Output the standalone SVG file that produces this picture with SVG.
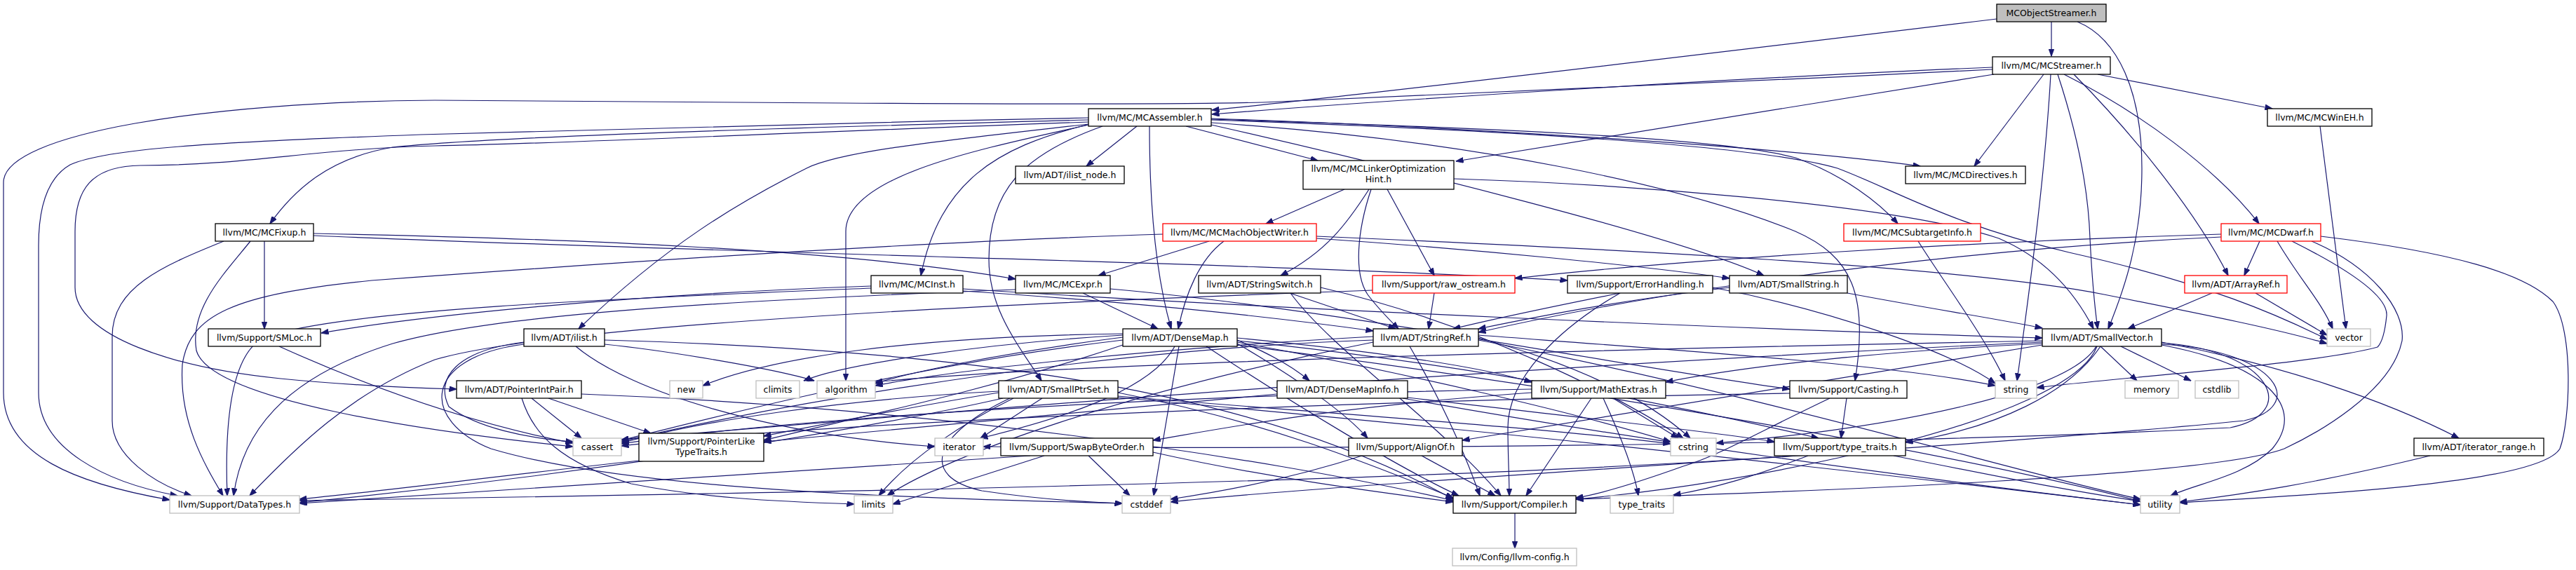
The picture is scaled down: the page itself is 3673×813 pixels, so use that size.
<svg xmlns="http://www.w3.org/2000/svg" width="3673" height="813" viewBox="0 0 3673 813">
<style>
text{font-family:"DejaVu Sans","Liberation Sans",sans-serif;font-size:12.5px;fill:#000;text-anchor:middle}
.n rect{fill:#fff;stroke:#000;stroke-width:1.3}
.r rect{fill:#fff;stroke:#ff0000;stroke-width:1.3}
.g rect{fill:#fff;stroke:#bfbfbf;stroke-width:1.3}
.s rect{fill:#bfbfbf;stroke:#000;stroke-width:1.3}
#edges path{fill:none;stroke:#191970;stroke-width:1.2;marker-end:url(#a)}
</style>
<defs>
<marker id="a" markerWidth="11" markerHeight="8" refX="10.5" refY="4" orient="auto" markerUnits="userSpaceOnUse"><path d="M0,0 L11,4 L0,8 z" fill="#191970" stroke="#191970" stroke-width="0.8"/></marker>
</defs>
<rect width="3673" height="813" fill="#fff"/>
<g id="edges">
<path d="M2925,31 L2925,80"/>
<path d="M2847,27 C2450,75 1950,135 1728,157"/>
<path d="M2962,31 C3020,55 3054,130 3054,240 C3054,340 3030,410 3006,469"/>
<path d="M2841,96 C2450,112 1950,145 1728,163"/>
<path d="M2841,99 C2450,118 2000,140 1800,146 C1650,150 1400,148 1200,147 L620,143 C300,145 5,190 5,260 L5,560 C5,650 110,690 242,713"/>
<path d="M2843,106 L2076,230"/>
<path d="M2914,106 L2815,237"/>
<path d="M2924,106 C2916,250 2893,420 2876,543"/>
<path d="M2934,106 C2965,200 2978,280 2980,340 C2983,400 2987,440 2991,469"/>
<path d="M2943,106 C3050,160 3160,240 3221,319"/>
<path d="M2957,106 C3040,190 3130,300 3177,393"/>
<path d="M2991,106 L3240,155"/>
<path d="M1552,168 C1200,175 800,186 600,192 C300,203 150,212 100,235 C65,255 55,300 55,350 L55,560 C55,640 150,688 253,707"/>
<path d="M1552,171 C1100,183 700,195 560,210 C470,225 420,270 385,319"/>
<path d="M1552,174 C1100,190 800,205 620,208 C450,212 350,236 200,236 C130,237 107,270 107,330 L107,410 C107,480 250,525 400,540 C500,550 580,553 651,555"/>
<path d="M1621,180 L1549,237"/>
<path d="M1550,178 C1420,210 1340,260 1313,393"/>
<path d="M1552,177 C1350,200 1200,215 1150,240 C1050,290 950,350 825,469"/>
<path d="M1552,178 C1400,212 1206,250 1206,330 L1206,543"/>
<path d="M1572,180 C1460,220 1410,270 1410,370 C1410,440 1450,490 1485,543"/>
<path d="M1639,180 C1639,300 1650,400 1670,469"/>
<path d="M1691,180 L1879,229"/>
<path d="M1727,169 C2000,178 2500,205 2738,237"/>
<path d="M1727,170 C2100,182 2450,195 2560,225 C2630,250 2680,290 2706,319"/>
<path d="M1727,171 C2100,184 2500,205 2620,240 C2700,270 2780,320 2950,360 C3150,405 3250,450 3318,484"/>
<path d="M1727,175 C2100,200 2400,265 2560,330 C2640,365 2665,420 2645,543"/>
<path d="M1727,178 C2000,240 2400,340 2515,393"/>
<path d="M3308,180 L3345,469"/>
<path d="M1917,270 L1805,319"/>
<path d="M1952,270 C1920,320 1890,360 1826,393"/>
<path d="M1955,270 C1935,330 1930,390 1950,420 C1965,440 1980,455 1994,469"/>
<path d="M1978,270 L2045,393"/>
<path d="M2073,255 C2300,262 2700,290 2850,340 C2920,370 2960,420 2985,469"/>
<path d="M377,344 L377,469"/>
<path d="M357,344 C320,390 270,440 280,500 C300,570 600,615 817,637"/>
<path d="M319,344 C230,380 160,410 160,480 L160,600 C160,650 220,690 273,707"/>
<path d="M447,333 C800,340 1200,355 1448,398"/>
<path d="M447,336 C1000,360 1800,375 2235,400"/>
<path d="M1724,344 L1566,393"/>
<path d="M1745,344 C1710,370 1690,420 1680,469"/>
<path d="M1658,334 C1300,345 800,380 530,400 C330,420 270,450 260,520 C255,600 290,660 318,707"/>
<path d="M1877,340 C2100,355 2350,380 2466,397"/>
<path d="M1877,337 C2300,355 2800,380 3000,420 C3150,450 3250,470 3318,490"/>
<path d="M2735,344 C2770,400 2830,480 2859,543"/>
<path d="M3222,344 L3200,393"/>
<path d="M3247,344 C3280,400 3310,430 3326,469"/>
<path d="M3167,334 C2800,345 2400,370 2160,397"/>
<path d="M3268,344 C3340,380 3405,420 3403,450 C3400,480 3395,490 3390,495 C3300,520 3000,540 2904,553"/>
<path d="M3309,337 C3500,360 3600,390 3640,430 C3670,470 3665,600 3650,640 C3620,690 3300,705 3108,717"/>
<path d="M3167,338 C2700,360 2300,430 2108,474"/>
<path d="M3296,344 C3380,380 3430,440 3425,486 C3410,560 3300,620 3257,640 C3150,680 2600,700 2247,712"/>
<path d="M1373,412 C1800,440 2500,470 2912,482"/>
<path d="M1373,415 C1600,430 1800,450 1958,472"/>
<path d="M1242,408 C900,420 600,450 458,475"/>
<path d="M1242,411 C900,425 500,440 380,480 C330,500 320,600 324,707"/>
<path d="M1544,418 L1651,469"/>
<path d="M1583,412 C1900,440 2300,520 2552,555"/>
<path d="M1448,413 C1000,430 700,450 560,490 C400,540 345,620 333,707"/>
<path d="M1839,418 L1990,469"/>
<path d="M1840,418 C1900,500 2050,600 2140,707"/>
<path d="M1883,410 C2100,460 2300,560 2400,625"/>
<path d="M2045,418 L2037,469"/>
<path d="M1957,414 C1500,430 800,460 620,513 C500,560 420,640 356,707"/>
<path d="M2310,418 C2250,430 2150,450 2072,469"/>
<path d="M2310,418 C2220,470 2150,540 2150,610 C2150,650 2152,680 2152,707"/>
<path d="M2442,410 C2600,440 2780,500 2845,547"/>
<path d="M2634,418 C2750,440 2850,455 2912,468"/>
<path d="M2466,410 C2300,430 2200,450 2108,469"/>
<path d="M3154,418 L3034,469"/>
<path d="M3216,418 L3318,478"/>
<path d="M398,494 C500,540 650,600 817,632"/>
<path d="M862,491 C950,500 1100,525 1161,543"/>
<path d="M747,488 C650,500 620,540 640,580 C680,610 750,625 817,630"/>
<path d="M747,491 C600,510 600,600 700,640 C900,700 1300,710 1600,718"/>
<path d="M821,494 C900,560 1100,620 1333,637"/>
<path d="M862,485 C1400,500 1800,560 2072,712"/>
<path d="M758,568 L829,625"/>
<path d="M782,568 L928,618"/>
<path d="M744,568 C760,620 800,660 900,690 C1000,710 1100,715 1218,719"/>
<path d="M829,562 C1300,580 1800,650 2072,714"/>
<path d="M911,657 C700,680 550,700 427,712"/>
<path d="M1764,485 C1800,500 1840,520 1867,543"/>
<path d="M1764,490 C1850,540 1920,590 1950,625"/>
<path d="M1720,494 C1850,580 2000,670 2080,707"/>
<path d="M1764,482 C1950,500 2100,520 2184,545"/>
<path d="M1601,492 C1400,560 1200,600 1089,628"/>
<path d="M1764,486 C2100,520 2400,580 2593,625"/>
<path d="M1601,481 C1450,500 1300,530 1248,547"/>
<path d="M1601,485 C1300,520 1000,600 886,628"/>
<path d="M1601,478 C1400,490 1200,520 1146,543"/>
<path d="M1681,494 L1645,707"/>
<path d="M1764,488 C2000,530 2250,590 2382,630"/>
<path d="M1675,494 C1640,560 1500,600 1398,625"/>
<path d="M1601,476 C1300,480 1100,510 1002,550"/>
<path d="M1764,492 C2300,560 2800,650 3052,715"/>
<path d="M1424,560 C1300,580 1150,610 1089,622"/>
<path d="M1424,558 C1200,570 1000,600 886,632"/>
<path d="M1486,568 L1398,625"/>
<path d="M1594,560 C1800,600 1950,660 2072,710"/>
<path d="M1430,568 C1200,620 800,680 427,717"/>
<path d="M1440,568 C1330,620 1310,680 1400,700 C1480,712 1540,716 1600,718"/>
<path d="M1594,565 C1900,590 2200,610 2382,633"/>
<path d="M1594,567 C2200,620 2800,690 3052,720"/>
<path d="M1445,568 C1380,600 1300,650 1253,707"/>
<path d="M1644,645 C1800,680 1950,700 2072,716"/>
<path d="M1469,650 C1000,680 700,700 427,718"/>
<path d="M1552,650 L1611,707"/>
<path d="M1489,650 L1273,719"/>
<path d="M1821,562 C1500,590 1200,620 1089,630"/>
<path d="M2007,567 C2200,590 2400,610 2530,630"/>
<path d="M2000,568 C2400,640 2800,690 3052,720"/>
<path d="M2269,568 L2176,707"/>
<path d="M2184,560 C1900,580 1750,610 1644,628"/>
<path d="M2300,568 L2393,625"/>
<path d="M2286,568 C2310,620 2330,670 2336,707"/>
<path d="M2184,555 C1600,565 1100,600 886,633"/>
<path d="M2027,650 L2132,707"/>
<path d="M1942,650 C1850,680 1750,700 1669,712"/>
<path d="M2609,568 C2500,620 2450,650 2400,665 C2330,690 2280,705 2247,710"/>
<path d="M2633,568 L2625,625"/>
<path d="M2552,561 C2000,570 1200,600 886,636"/>
<path d="M2578,650 C2500,680 2450,695 2386,706"/>
<path d="M2700,650 C2850,680 2950,700 3052,715"/>
<path d="M2560,650 C2000,690 1000,705 427,714"/>
<path d="M2160,732 L2160,782"/>
<path d="M3465,650 C3300,690 3200,705 3108,716"/>
<path d="M2010,494 C2060,580 2090,650 2110,707"/>
<path d="M1958,480 C1600,500 1350,530 1248,550"/>
<path d="M1958,485 C1500,500 1000,600 886,630"/>
<path d="M2108,482 C2250,520 2350,570 2410,625"/>
<path d="M1958,488 C1600,560 1350,650 1265,707"/>
<path d="M2108,478 C2400,500 2700,520 2845,550"/>
<path d="M2108,485 C2500,560 2900,680 3052,712"/>
<path d="M3082,488 C3250,520 3400,570 3506,625"/>
<path d="M2912,492 C2500,560 2200,610 2085,628"/>
<path d="M2990,494 C2950,600 2500,690 2247,712"/>
<path d="M2912,490 C2700,500 2500,520 2375,545"/>
<path d="M2995,494 C2950,560 2850,610 2717,631"/>
<path d="M2912,486 C2200,500 1500,520 1248,545"/>
<path d="M2912,488 C2000,530 1200,600 886,627"/>
<path d="M3082,491 C3250,500 3290,580 3200,600 C2800,640 1900,690 1669,716"/>
<path d="M3024,494 L3124,543"/>
<path d="M2989,494 C2950,560 2700,610 2447,632"/>
<path d="M3082,489 C3240,500 3280,590 3180,610 C2600,640 1700,640 1402,637"/>
<path d="M2995,494 L3047,543"/>
<path d="M3082,492 C3230,520 3290,580 3240,640 C3200,680 3130,690 3095,707"/>
</g>
<g id="n1" class="s"><rect x="2847" y="6" width="156" height="25"/><text x="2925" y="23">MCObjectStreamer.h</text></g>
<g id="n2" class="n"><rect x="2841" y="81" width="168" height="25"/><text x="2925" y="98">llvm/MC/MCStreamer.h</text></g>
<g id="n3" class="n"><rect x="1552" y="155" width="175" height="25"/><text x="1639.5" y="172">llvm/MC/MCAssembler.h</text></g>
<g id="n4" class="n"><rect x="3233" y="155" width="149" height="25"/><text x="3307.5" y="172">llvm/MC/MCWinEH.h</text></g>
<g id="n5" class="n"><rect x="1858" y="229" width="215" height="41"/><text x="1965.5" y="245">llvm/MC/MCLinkerOptimization</text><text x="1965.5" y="260">Hint.h</text></g>
<g id="n6" class="n"><rect x="1448" y="237" width="155" height="25"/><text x="1525.5" y="254">llvm/ADT/ilist_node.h</text></g>
<g id="n7" class="n"><rect x="2717" y="237" width="171" height="25"/><text x="2802.5" y="254">llvm/MC/MCDirectives.h</text></g>
<g id="n8" class="n"><rect x="307" y="319" width="140" height="25"/><text x="377" y="336">llvm/MC/MCFixup.h</text></g>
<g id="n9" class="r"><rect x="1658" y="319" width="219" height="25"/><text x="1767.5" y="336">llvm/MC/MCMachObjectWriter.h</text></g>
<g id="n10" class="r"><rect x="2629" y="319" width="195" height="25"/><text x="2726.5" y="336">llvm/MC/MCSubtargetInfo.h</text></g>
<g id="n11" class="r"><rect x="3167" y="319" width="142" height="25"/><text x="3238" y="336">llvm/MC/MCDwarf.h</text></g>
<g id="n12" class="n"><rect x="1242" y="393" width="131" height="25"/><text x="1307.5" y="410">llvm/MC/MCInst.h</text></g>
<g id="n13" class="n"><rect x="1448" y="393" width="135" height="25"/><text x="1515.5" y="410">llvm/MC/MCExpr.h</text></g>
<g id="n14" class="n"><rect x="1709" y="393" width="174" height="25"/><text x="1796" y="410">llvm/ADT/StringSwitch.h</text></g>
<g id="n15" class="r"><rect x="1957" y="393" width="203" height="25"/><text x="2058.5" y="410">llvm/Support/raw_ostream.h</text></g>
<g id="n16" class="n"><rect x="2235" y="393" width="207" height="25"/><text x="2338.5" y="410">llvm/Support/ErrorHandling.h</text></g>
<g id="n17" class="n"><rect x="2466" y="393" width="168" height="25"/><text x="2550" y="410">llvm/ADT/SmallString.h</text></g>
<g id="n18" class="r"><rect x="3115" y="393" width="146" height="25"/><text x="3188" y="410">llvm/ADT/ArrayRef.h</text></g>
<g id="n19" class="n"><rect x="297" y="469" width="160" height="25"/><text x="377" y="486">llvm/Support/SMLoc.h</text></g>
<g id="n20" class="n"><rect x="747" y="469" width="115" height="25"/><text x="804.5" y="486">llvm/ADT/ilist.h</text></g>
<g id="n21" class="n"><rect x="1601" y="469" width="163" height="25"/><text x="1682.5" y="486">llvm/ADT/DenseMap.h</text></g>
<g id="n22" class="n"><rect x="1958" y="469" width="150" height="25"/><text x="2033" y="486">llvm/ADT/StringRef.h</text></g>
<g id="n23" class="n"><rect x="2912" y="469" width="170" height="25"/><text x="2997" y="486">llvm/ADT/SmallVector.h</text></g>
<g id="n24" class="g"><rect x="3318" y="469" width="62" height="25"/><text x="3349" y="486">vector</text></g>
<g id="n25" class="n"><rect x="651" y="543" width="178" height="25"/><text x="740" y="560">llvm/ADT/PointerIntPair.h</text></g>
<g id="n26" class="g"><rect x="955" y="543" width="47" height="25"/><text x="978.5" y="560">new</text></g>
<g id="n27" class="g"><rect x="1078" y="543" width="62" height="25"/><text x="1109" y="560">climits</text></g>
<g id="n28" class="g"><rect x="1165" y="543" width="83" height="25"/><text x="1206.5" y="560">algorithm</text></g>
<g id="n29" class="n"><rect x="1424" y="543" width="170" height="25"/><text x="1509" y="560">llvm/ADT/SmallPtrSet.h</text></g>
<g id="n30" class="n"><rect x="1821" y="543" width="186" height="25"/><text x="1914" y="560">llvm/ADT/DenseMapInfo.h</text></g>
<g id="n31" class="n"><rect x="2184" y="543" width="191" height="25"/><text x="2279.5" y="560">llvm/Support/MathExtras.h</text></g>
<g id="n32" class="n"><rect x="2552" y="543" width="167" height="25"/><text x="2635.5" y="560">llvm/Support/Casting.h</text></g>
<g id="n33" class="g"><rect x="2845" y="543" width="59" height="25"/><text x="2874.5" y="560">string</text></g>
<g id="n34" class="g"><rect x="3030" y="543" width="76" height="25"/><text x="3068" y="560">memory</text></g>
<g id="n35" class="g"><rect x="3130" y="543" width="62" height="25"/><text x="3161" y="560">cstdlib</text></g>
<g id="n36" class="g"><rect x="817" y="625" width="69" height="25"/><text x="851.5" y="642">cassert</text></g>
<g id="n37" class="n"><rect x="911" y="618" width="178" height="40"/><text x="1000" y="634">llvm/Support/PointerLike</text><text x="1000" y="649">TypeTraits.h</text></g>
<g id="n38" class="g"><rect x="1333" y="625" width="69" height="25"/><text x="1367.5" y="642">iterator</text></g>
<g id="n39" class="n"><rect x="1427" y="625" width="217" height="25"/><text x="1535.5" y="642">llvm/Support/SwapByteOrder.h</text></g>
<g id="n40" class="n"><rect x="1923" y="625" width="162" height="25"/><text x="2004" y="642">llvm/Support/AlignOf.h</text></g>
<g id="n41" class="g"><rect x="2382" y="625" width="65" height="25"/><text x="2414.5" y="642">cstring</text></g>
<g id="n42" class="n"><rect x="2530" y="625" width="187" height="25"/><text x="2623.5" y="642">llvm/Support/type_traits.h</text></g>
<g id="n43" class="n"><rect x="3442" y="625" width="185" height="25"/><text x="3534.5" y="642">llvm/ADT/iterator_range.h</text></g>
<g id="n44" class="g"><rect x="242" y="707" width="185" height="25"/><text x="334.5" y="724">llvm/Support/DataTypes.h</text></g>
<g id="n45" class="g"><rect x="1218" y="707" width="55" height="25"/><text x="1245.5" y="724">limits</text></g>
<g id="n46" class="g"><rect x="1600" y="707" width="69" height="25"/><text x="1634.5" y="724">cstddef</text></g>
<g id="n47" class="n"><rect x="2072" y="707" width="175" height="25"/><text x="2159.5" y="724">llvm/Support/Compiler.h</text></g>
<g id="n48" class="g"><rect x="2296" y="707" width="90" height="25"/><text x="2341" y="724">type_traits</text></g>
<g id="n49" class="g"><rect x="3052" y="707" width="56" height="25"/><text x="3080" y="724">utility</text></g>
<g id="n50" class="g"><rect x="2071" y="782" width="177" height="25"/><text x="2159.5" y="799">llvm/Config/llvm-config.h</text></g>
</svg>
